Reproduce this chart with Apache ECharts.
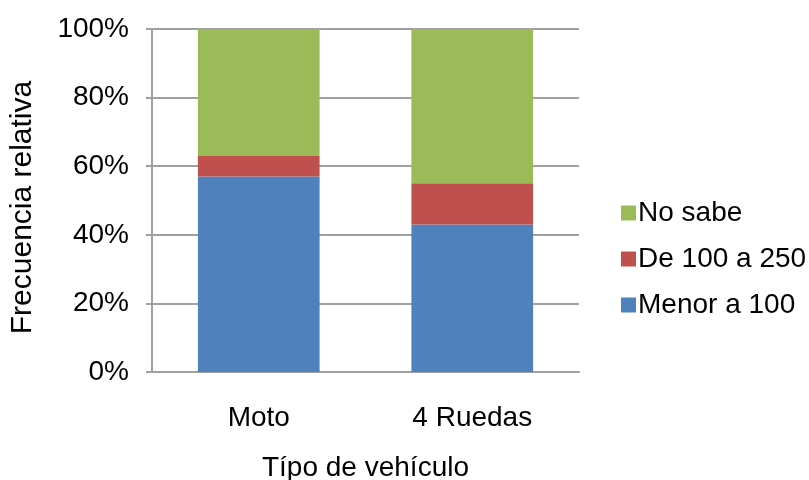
<!DOCTYPE html>
<html>
<head>
<meta charset="utf-8">
<script src="https://cdn.jsdelivr.net/npm/echarts@6/dist/echarts.min.js"></script>
<style>
  html, body { margin: 0; padding: 0; background: #fff; }
  #chart { width: 809px; height: 480px; }
</style>
</head>
<body>
<div id="chart"></div>
<script>
// Vehicle types on the category axis
const categories = ['Moto', '4 Ruedas'];
// Relative frequency (%) per group, stacked to 100
const menorA100 = [57, 43];
const de100a250 = [6, 12];
const noSabe = [37, 45];
// Y axis ticks
const yTicks = [0, 20, 40, 60, 80, 100];

const FONT = 'Liberation Sans, Arial, sans-serif';
const chart = echarts.init(document.getElementById('chart'));

function barSeries(name, data, color) {
  return {
    name: name,
    type: 'bar',
    stack: 'total',
    data: data,
    barWidth: '57%',
    itemStyle: { color: color },
    emphasis: { disabled: true }
  };
}

chart.setOption({
  animation: false,
  textStyle: { fontFamily: FONT },
  grid: { left: 152, right: 230, top: 29, bottom: 108, containLabel: false, outerBoundsMode: 'none' },
  legend: {
    orient: 'vertical',
    left: 616,
    top: 194,
    itemWidth: 15,
    itemHeight: 15,
    itemGap: 18,
    icon: 'rect',
    data: ['No sabe', 'De 100 a 250', 'Menor a 100'],
    textStyle: { fontSize: 28, color: '#000', fontFamily: FONT, padding: [0, 0, 0, -3] }
  },
  xAxis: {
    type: 'category',
    data: categories,
    name: 'Típo de vehículo',
    nameLocation: 'middle',
    nameGap: 82,
    nameTextStyle: { fontSize: 28, color: '#000', fontFamily: FONT },
    axisLine: { show: true, lineStyle: { color: '#a0a0a0', width: 2 } },
    axisTick: { show: false },
    axisLabel: { fontSize: 28, color: '#000', margin: 32, fontFamily: FONT }
  },
  yAxis: {
    type: 'value',
    min: yTicks[0],
    max: yTicks[yTicks.length - 1],
    interval: 20,
    name: 'Frecuencia relativa',
    nameLocation: 'middle',
    nameGap: 114,
    nameRotate: 90,
    nameTextStyle: { fontSize: 30, color: '#000', fontFamily: FONT, padding: [0, 14, 0, 0] },
    axisLine: { show: true, lineStyle: { color: '#a0a0a0', width: 2 } },
    axisTick: { show: true, inside: false, length: 6, lineStyle: { color: '#a0a0a0', width: 2 } },
    axisLabel: { fontSize: 28, color: '#000', margin: 23, fontFamily: FONT, formatter: '{value}%' },
    splitLine: { show: true, lineStyle: { color: '#a0a0a0', width: 2 } }
  },
  series: [
    barSeries('Menor a 100', menorA100, '#4F81BD'),
    barSeries('De 100 a 250', de100a250, '#C0504D'),
    barSeries('No sabe', noSabe, '#9BBB59')
  ]
});
</script>
</body>
</html>
